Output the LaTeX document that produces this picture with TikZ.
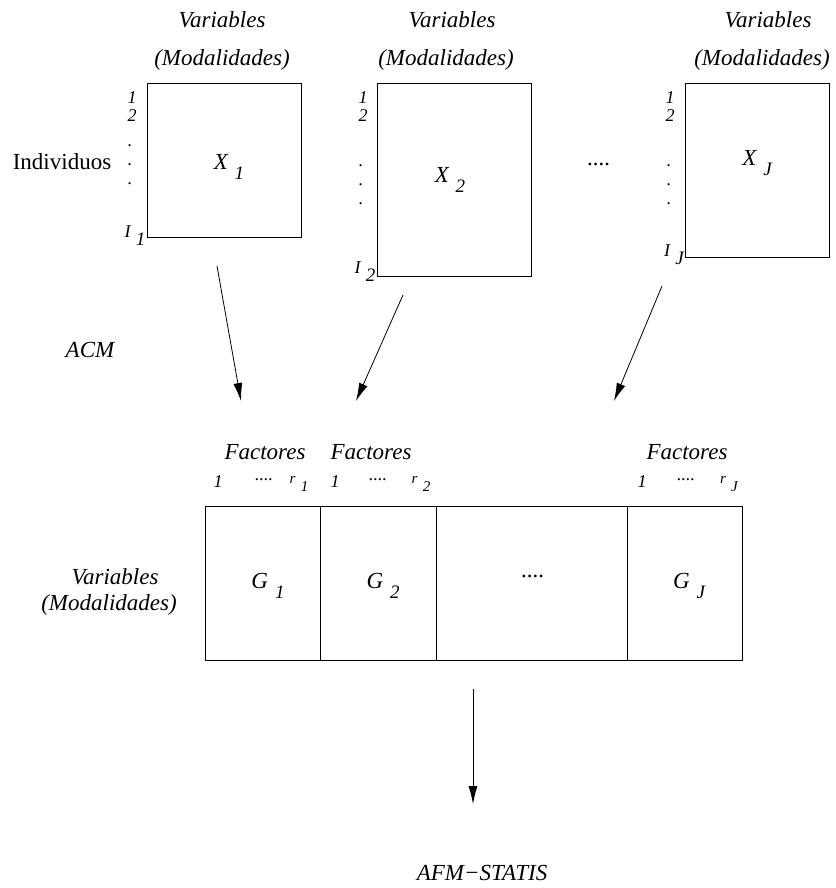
\documentclass[tikz,border=0pt]{standalone}
\usepackage{fontspec}
\setmainfont{Liberation Serif}
\usetikzlibrary{arrows.meta}

\newcommand\subi[2]{#1\hspace{0.3em}\raisebox{-0.45em}{\fontsize{19}{19}\selectfont #2}}

\begin{document}
\begin{tikzpicture}[x=1pt,y=-1pt,
  every node/.style={inner sep=0pt, font=\fontsize{23}{26}\selectfont\itshape},
  small/.style={font=\fontsize{18}{18}\selectfont\itshape, align=center},
  tabla/.style={draw, line width=0.8pt},
  flecha/.style={-{Latex[length=18pt,width=9pt]}, line width=0.8pt}]
  \useasboundingbox (0,0) rectangle (835,888);

    % tablas de entrada
    \node[tabla, minimum width=154pt, minimum height=154pt] (X1) at (224,160) {};
    \node[tabla, minimum width=154pt, minimum height=193pt] (X2) at (454,179.5) {};
    \node[tabla, minimum width=144pt, minimum height=174pt] (XJ) at (757,170) {};
    \node (LX1) at (229,167) {\subi{X}{1}};
    \node (LX2) at (450,180) {\subi{X}{2}};
    \node (LXJ) at (757,163) {\subi{X}{J}};
    \node (P0) at (599,164) {....};

    \node (V1) at (222,20) {Variables};
    \node (M1) at (222,60) {(Modalidades)};
    \node (V2) at (452,20) {Variables};
    \node (M2) at (446,60) {(Modalidades)};
    \node (VJ) at (768,20) {Variables};
    \node (MJ) at (762,60) {(Modalidades)};
    \node[font=\fontsize{23}{26}\selectfont] (Ind) at (62,162) {Individuos};

    \node[small] (N11) at (132,98) {1};
    \node[small] (N12) at (132,116) {2};
    \node[small] (N21) at (363,98) {1};
    \node[small] (N22) at (363,116) {2};
    \node[small] (NJ1) at (670,98) {1};
    \node[small] (NJ2) at (670,116) {2};
    \node[small] (D1) at (130,165) {.\\[1pt].\\[1pt].};
    \node[small] (D2) at (361,185) {.\\[1pt].\\[1pt].};
    \node[small] (DJ) at (669,185) {.\\[1pt].\\[1pt].};
    \node[small] (I1) at (135,236) {\subi{I}{1}};
    \node[small] (I2) at (365,272) {\subi{I}{2}};
    \node[small] (IJ) at (674,255) {\subi{I}{J}};

    \node (ACM) at (90,350) {ACM};

    % tabla de factores
    \node[tabla, minimum width=115pt, minimum height=154pt] (G1) at (262.5,583) {};
    \node[tabla, minimum width=116pt, minimum height=154pt] (G2) at (378,583) {};
    \node[tabla, minimum width=191pt, minimum height=154pt] (GM) at (531.5,583) {};
    \node[tabla, minimum width=115pt, minimum height=154pt] (GJ) at (684.5,583) {};
    \node (LG1) at (268,586) {\subi{G}{1}};
    \node (LG2) at (383,586) {\subi{G}{2}};
    \node (LGM) at (533,576) {....};
    \node (LGJ) at (689,586) {\subi{G}{J}};

    \node (F1) at (265,452) {Factores};
    \node (F2) at (371,452) {Factores};
    \node (FJ) at (687,452) {Factores};
    \node[small] (F1a) at (218,482) {1};
    \node[small] (F1b) at (264,480) {....};
    \node[small] (F1c) at (299,484) {\fontsize{15}{15}\selectfont r\hspace{0.35em}\raisebox{-0.5em}{1}};
    \node[small] (F2a) at (335,482) {1};
    \node[small] (F2b) at (378,480) {....};
    \node[small] (F2c) at (421,484) {\fontsize{15}{15}\selectfont r\hspace{0.35em}\raisebox{-0.5em}{2}};
    \node[small] (FJa) at (642,482) {1};
    \node[small] (FJb) at (686,480) {....};
    \node[small] (FJc) at (729,484) {\fontsize{15}{15}\selectfont r\hspace{0.35em}\raisebox{-0.5em}{J}};

    \node (VG) at (115,577) {Variables};
    \node (MG) at (109,605) {(Modalidades)};

    \node (AS) at (482,873) {AFM−STATIS};

    % flechas
    \coordinate (a1) at (217,266);
    \coordinate (b1) at (241,401);
    \coordinate (a2) at (403,295);
    \coordinate (b2) at (356,401);
    \coordinate (aJ) at (662,286);
    \coordinate (bJ) at (614,401);
    \coordinate (a4) at (473,689);
    \coordinate (b4) at (473,804);
    \draw [flecha] (a1) to (b1);
    \draw [flecha] (a2) to (b2);
    \draw [flecha] (aJ) to (bJ);
    \draw [flecha] (a4) to (b4);
\end{tikzpicture}
\end{document}
